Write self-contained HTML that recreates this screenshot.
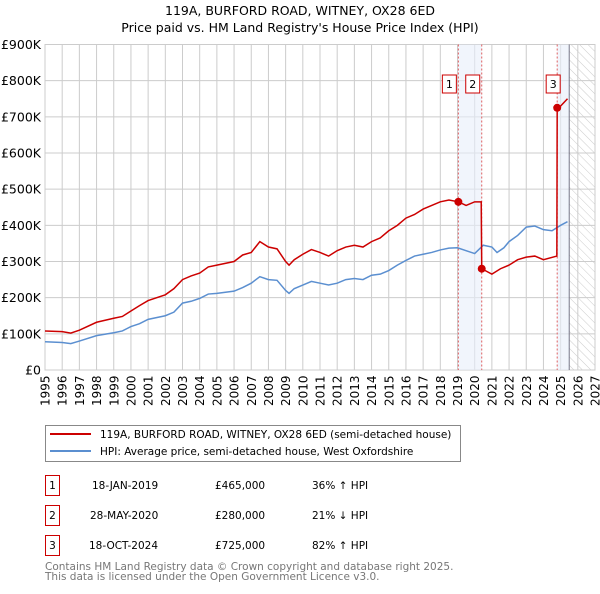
<!DOCTYPE html>
<html><head><meta charset="utf-8"><style>
body{margin:0;background:#fff;font-family:"DejaVu Sans","Liberation Sans",sans-serif;}
svg text{font-family:"DejaVu Sans","Liberation Sans",sans-serif;}
</style></head><body>
<svg id="chart" width="600" height="590" viewBox="0 0 600 590" xmlns="http://www.w3.org/2000/svg">
<defs><pattern id="hatch" width="6" height="6" patternUnits="userSpaceOnUse" patternTransform="rotate(-45)"><line x1="0" y1="0" x2="0" y2="6" stroke="#ccc" stroke-width="1"/></pattern></defs>
<text x="300" y="15" text-anchor="middle" font-size="12.5">119A, BURFORD ROAD, WITNEY, OX28 6ED</text>
<text x="300" y="32" text-anchor="middle" font-size="12.5">Price paid vs. HM Land Registry's House Price Index (HPI)</text>
<g id="grid"></g><g id="bands"></g><g id="axes"></g><g id="series"></g><g id="markers"></g>
<g>
<rect x="45.5" y="425.5" width="415" height="36" fill="#fff" stroke="#888"/>
<line x1="50" y1="434" x2="91" y2="434" stroke="#cc0000" stroke-width="2"/>
<text x="100" y="438" font-size="10.5">119A, BURFORD ROAD, WITNEY, OX28 6ED (semi-detached house)</text>
<line x1="50" y1="451" x2="91" y2="451" stroke="#5b8fd0" stroke-width="2"/>
<text x="100" y="455" font-size="10.5">HPI: Average price, semi-detached house, West Oxfordshire</text>
</g>
<g font-size="10.5">
<rect x="45.5" y="475.5" width="14" height="20" fill="#fff" stroke="#cc0000"/><text x="52.5" y="489" text-anchor="middle">1</text>
<text x="92" y="489">18-JAN-2019</text><text x="215" y="489">£465,000</text><text x="312" y="489">36% ↑ HPI</text>
<rect x="45.5" y="505.5" width="14" height="20" fill="#fff" stroke="#cc0000"/><text x="52.5" y="519" text-anchor="middle">2</text>
<text x="90" y="519">28-MAY-2020</text><text x="215" y="519">£280,000</text><text x="312" y="519">21% ↓ HPI</text>
<rect x="45.5" y="535.5" width="14" height="20" fill="#fff" stroke="#cc0000"/><text x="52.5" y="549" text-anchor="middle">3</text>
<text x="89" y="549">18-OCT-2024</text><text x="215" y="549">£725,000</text><text x="312" y="549">82% ↑ HPI</text>
</g>
<text x="45" y="570" font-size="10.5" fill="#777">Contains HM Land Registry data © Crown copyright and database right 2025.</text>
<text x="45" y="580" font-size="10.5" fill="#777">This data is licensed under the Open Government Licence v3.0.</text>
</svg>
<script>
const yTicks=[0,100,200,300,400,500,600,700,800,900];
const yTickLabels=["£0","£100K","£200K","£300K","£400K","£500K","£600K","£700K","£800K","£900K"];
const years=[1995,1996,1997,1998,1999,2000,2001,2002,2003,2004,2005,2006,2007,2008,2009,2010,2011,2012,2013,2014,2015,2016,2017,2018,2019,2020,2021,2022,2023,2024,2025,2026,2027];
const hpiT=[1995,1996,1996.5,1997,1998,1999,1999.5,2000,2000.5,2001,2002,2002.5,2003,2003.5,2004,2004.5,2005,2006,2006.5,2007,2007.5,2008,2008.5,2009,2009.2,2009.5,2010,2010.5,2011,2011.5,2012,2012.5,2013,2013.5,2014,2014.5,2015,2015.5,2016,2016.5,2017,2017.5,2018,2018.5,2019,2019.5,2020,2020.5,2021,2021.3,2021.7,2022,2022.5,2023,2023.5,2024,2024.5,2025,2025.4];
const hpiV=[78,76,73,80,95,103,108,120,128,140,150,160,185,190,198,210,212,218,228,240,258,250,248,220,212,225,235,245,240,235,240,250,253,250,262,265,275,290,303,315,320,325,332,337,338,330,322,345,340,325,338,355,372,395,398,388,385,400,410];
const priceT=[1995,1996,1996.5,1997,1998,1999,1999.5,2000,2000.5,2001,2002,2002.5,2003,2003.5,2004,2004.5,2005,2006,2006.5,2007,2007.5,2008,2008.5,2009,2009.2,2009.5,2010,2010.5,2011,2011.5,2012,2012.5,2013,2013.5,2014,2014.5,2015,2015.5,2016,2016.5,2017,2017.5,2018,2018.5,2019.05,2019.5,2020,2020.38,2020.41,2021,2021.5,2022,2022.5,2023,2023.5,2024,2024.78,2024.8,2025,2025.4];
const priceV=[108,106,102,110,132,143,148,163,178,192,208,225,250,260,268,285,290,300,318,325,355,340,335,300,290,305,320,333,325,315,330,340,345,340,355,365,385,400,420,430,445,455,465,470,465,455,465,465,280,265,280,290,305,312,315,305,315,725,730,750];
const saleT=[2019.05,2020.41,2024.8];
const saleV=[465,280,725];
const saleLabels=["1","2","3"];
const NS="http://www.w3.org/2000/svg";
const X0=45,X1=595,Y0=370,Y1=44.5;
const xs=t=>X0+(t-1995)/(2027-1995)*(X1-X0);
const ys=v=>Y0-v/900*(Y0-Y1);
function mk(tag,attrs,parent){const e=document.createElementNS(NS,tag);for(const k in attrs)e.setAttribute(k,attrs[k]);parent.appendChild(e);return e;}
const grid=document.getElementById('grid'),axes=document.getElementById('axes'),bands=document.getElementById('bands'),series=document.getElementById('series'),markers=document.getElementById('markers');
mk('rect',{x:X0,y:Y1,width:X1-X0,height:Y0-Y1,fill:'#fff'},grid);
years.forEach(y=>{const l=mk('line',{x1:xs(y),x2:xs(y),y1:Y1,y2:Y0,stroke:'#ccc'},grid);


const t=mk('text',{x:0,y:0,'font-size':12,transform:`translate(${xs(y)+4.5},${Y0+36}) rotate(-90)`},axes);t.textContent=y;

});
yTicks.forEach((v,i)=>{const l=mk('line',{x1:X0,x2:X1,y1:ys(v),y2:ys(v),stroke:'#ccc'},grid);


const t=mk('text',{x:X0-4,y:ys(v)+4.5,'font-size':12.5,'text-anchor':'end'},axes);t.textContent=yTickLabels[i];

});
let b=mk('rect',{x:xs(saleT[0]),y:Y1,width:xs(saleT[1])-xs(saleT[0]),height:Y0-Y1,fill:'#e8eefa',opacity:0.6},bands);


b=mk('rect',{x:xs(saleT[2]),y:Y1,width:xs(2025.5)-xs(saleT[2]),height:Y0-Y1,fill:'#e8eefa',opacity:0.6},bands);


b=mk('rect',{x:xs(2025.5),y:Y1,width:X1-xs(2025.5),height:Y0-Y1,fill:'url(#hatch)'},bands);


mk('line',{x1:xs(2025.5),x2:xs(2025.5),y1:Y1,y2:Y0,stroke:'#778'},bands);
saleT.forEach(t=>{const l=mk('line',{x1:xs(t),x2:xs(t),y1:Y1,y2:Y0,stroke:'#e06060','stroke-dasharray':'2,2'},bands);

});
mk('rect',{x:X0,y:Y1,width:X1-X0,height:Y0-Y1,fill:'none',stroke:'#ccc'},grid);
let p=mk('polyline',{points:hpiT.map((t,i)=>xs(t)+','+ys(hpiV[i])).join(' '),fill:'none',stroke:'#5b8fd0','stroke-width':1.5},series);


p=mk('polyline',{points:priceT.map((t,i)=>xs(t)+','+ys(priceV[i])).join(' '),fill:'none',stroke:'#cc0000','stroke-width':1.5},series);


saleT.forEach((t,i)=>{const c=mk('circle',{cx:xs(t),cy:ys(saleV[i]),r:4,fill:'#cc0000'},markers);


const bx=xs(t)-(i===2?4:9);
const r=mk('rect',{x:bx-7,y:75,width:14,height:18,fill:'#fff',stroke:'#cc0000'},markers);


const tx=mk('text',{x:bx,y:88,'text-anchor':'middle','font-size':11},markers);tx.textContent=saleLabels[i];

});
</script>
</body></html>
